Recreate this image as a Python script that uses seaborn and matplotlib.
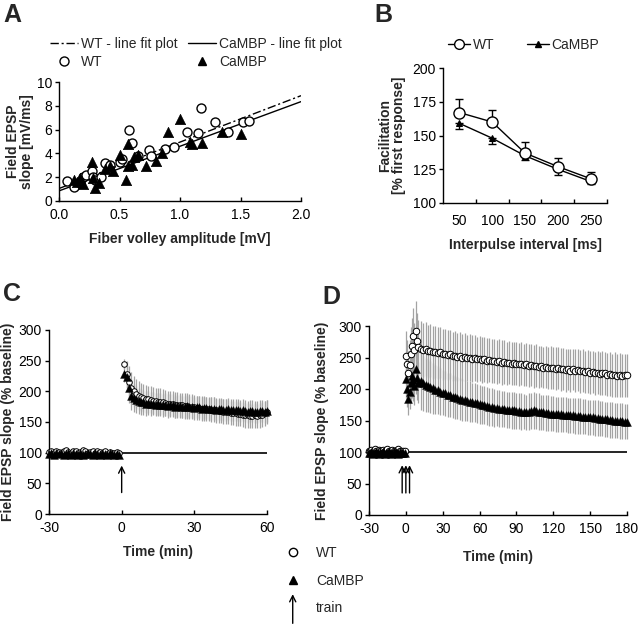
import numpy as np
import matplotlib
matplotlib.use('Agg')
import matplotlib.pyplot as plt
from matplotlib.lines import Line2D
from matplotlib.patches import FancyArrowPatch
from matplotlib.legend_handler import HandlerBase
import seaborn as sns

sns.set_style('ticks')
plt.rcParams['font.family'] = ['Liberation Sans', 'DejaVu Sans']
plt.rcParams['font.size'] = 10
plt.rcParams['axes.linewidth'] = 1.0
plt.rcParams['axes.edgecolor'] = 'black'
plt.rcParams['xtick.color'] = 'black'
plt.rcParams['ytick.color'] = 'black'
plt.rcParams['axes.unicode_minus'] = False

# ---- A: fiber volley vs field EPSP slope
wt_fv = [0.07, 0.12, 0.17, 0.20, 0.22, 0.27, 0.28, 0.30, 0.35, 0.38, 0.42, 0.50, 0.52, 0.58,
         0.60, 0.65, 0.74, 0.76, 0.88, 0.95, 1.06, 1.15, 1.17, 1.29, 1.40, 1.52, 1.57]
wt_slope = [1.7, 1.2, 1.5, 2.0, 2.2, 2.5, 2.0, 1.8, 2.0, 3.2, 3.0, 3.3, 3.5, 6.0,
            4.9, 3.8, 4.3, 3.8, 4.4, 4.5, 5.8, 5.7, 7.8, 6.6, 5.8, 6.6, 6.7]
cb_fv = [0.12, 0.15, 0.17, 0.20, 0.27, 0.28, 0.30, 0.33, 0.38, 0.42, 0.45, 0.50, 0.55, 0.57,
         0.57, 0.60, 0.62, 0.65, 0.72, 0.80, 0.85, 0.90, 1.00, 1.08, 1.10, 1.18, 1.35, 1.50]
cb_slope = [1.8, 1.6, 1.9, 1.4, 3.3, 1.9, 1.1, 1.5, 2.7, 2.9, 2.5, 3.9, 1.8, 4.8,
            2.9, 3.0, 3.7, 3.9, 2.9, 3.4, 4.0, 5.8, 6.9, 5.0, 4.8, 4.9, 5.8, 5.6]
fit_x = [0.0, 2.0]
wt_fit_y = [1.05, 8.85]
cb_fit_y = [0.85, 8.35]

# ---- B: paired pulse facilitation
ipi_labels = ['50', '100', '150', '200', '250']
wt_ppf = [167, 160, 137, 127, 118]
wt_ppf_sem = [10, 9, 8, 6, 5]
cb_ppf = [159, 148, 135, 125, 116]
cb_ppf_sem = [4, 4, 3, 4, 2]

# ---- C: LTP after one train (-30..-1 baseline, 1..60 post)
c_wt_pre = [101, 102, 100, 103, 101, 99, 102, 104, 101, 100,
            103, 102, 99, 101, 104, 102, 100, 101, 103, 99,
            102, 101, 100, 102, 98, 101, 100, 99, 101, 100]
c_cb_pre = [98, 99, 97, 100, 98, 99, 97, 98, 100, 97,
            99, 98, 96, 99, 97, 98, 100, 98, 97, 99,
            98, 97, 99, 98, 97, 99, 98, 97, 98, 97]
c_wt_pre_sem = [3, 2, 3, 3, 2, 3, 4, 3, 2, 3, 3, 2, 3, 3, 4, 3, 2, 3, 3, 2,
                3, 3, 2, 3, 3, 2, 3, 3, 2, 3]
c_cb_pre_sem = [2, 3, 2, 3, 2, 2, 3, 2, 3, 2, 2, 3, 2, 2, 3, 2, 3, 2, 2, 3,
                2, 2, 3, 2, 2, 3, 2, 2, 3, 2]
c_wt_post = [244, 228, 215, 206, 200, 196, 193, 191, 189, 188,
             187, 186, 185, 184, 183, 183, 182, 181, 180, 180,
             179, 178, 178, 177, 177, 176, 176, 175, 175, 174,
             173, 173, 172, 172, 171, 171, 170, 170, 169, 168,
             168, 167, 167, 166, 165, 165, 164, 163, 163, 162,
             161, 161, 160, 160, 161, 160, 161, 162, 164, 166]
c_cb_post = [228, 223, 205, 193, 189, 186, 184, 183, 182, 180,
             181, 179, 180, 178, 179, 178, 177, 178, 176, 177,
             177, 175, 176, 176, 174, 175, 176, 174, 175, 173,
             174, 174, 172, 173, 173, 171, 172, 172, 170, 171,
             171, 170, 170, 171, 169, 170, 169, 169, 168, 169,
             168, 167, 168, 168, 167, 167, 168, 168, 167, 168]
c_wt_post_sem = [8, 22, 26, 26, 25, 24, 24, 23, 23, 23,
                 22, 22, 22, 22, 22, 22, 21, 21, 21, 21,
                 21, 21, 21, 21, 21, 21, 21, 20, 20, 20,
                 20, 20, 20, 20, 20, 20, 20, 20, 20, 20,
                 20, 20, 20, 20, 20, 20, 20, 20, 20, 20,
                 20, 20, 20, 20, 20, 20, 20, 20, 20, 20]
c_cb_post_sem = [12, 18, 24, 24, 23, 22, 21, 21, 20, 20,
                 20, 20, 19, 19, 19, 19, 19, 19, 19, 19,
                 18, 18, 18, 18, 18, 18, 18, 18, 18, 18,
                 18, 18, 18, 18, 18, 18, 18, 18, 18, 18,
                 18, 18, 18, 18, 18, 18, 18, 18, 18, 18,
                 18, 18, 18, 18, 18, 18, 18, 18, 18, 18]
c_train = [0]

# ---- D: LTP after three trains (-30..-1 baseline, 0..10 burst, 12..180 every 2 min)
d_wt_pre = [102, 101, 103, 100, 102, 104, 101, 100, 103, 102,
            101, 103, 100, 102, 101, 104, 102, 100, 101, 103,
            102, 100, 101, 103, 104, 102, 101, 100, 102, 101]
d_cb_pre = [99, 98, 100, 97, 99, 98, 100, 98, 97, 99,
            98, 100, 99, 97, 98, 99, 100, 98, 97, 99,
            98, 99, 100, 98, 97, 99, 98, 99, 98, 99]
d_wt_pre_sem = [4, 3, 4, 3, 4, 5, 3, 4, 4, 3, 4, 4, 3, 4, 3, 5, 4, 3, 4, 4,
                3, 4, 3, 4, 5, 4, 3, 4, 4, 3]
d_cb_pre_sem = [3, 3, 4, 3, 3, 3, 4, 3, 3, 3, 4, 3, 3, 3, 4, 3, 3, 3, 4, 3,
                3, 3, 4, 3, 3, 3, 4, 3, 3, 3]
d_wt_burst = [252, 240, 226, 238, 256, 268, 284, 262, 292, 276, 266]
d_cb_burst = [216, 200, 184, 196, 210, 221, 214, 205, 232, 218, 210]
d_wt_burst_sem = [40, 38, 35, 40, 42, 45, 45, 42, 48, 45, 44]
d_cb_burst_sem = [30, 28, 25, 28, 32, 35, 33, 30, 40, 35, 33]
d_wt_tail = [264, 262, 263, 260, 261, 258, 259, 257, 258, 255,
             256, 254, 255, 252, 253, 251, 252, 250, 251, 249,
             250, 248, 249, 247, 248, 246, 247, 245, 246, 244,
             245, 243, 244, 242, 243, 241, 242, 240, 241, 240,
             239, 240, 238, 239, 237, 238, 236, 237, 235, 236,
             234, 235, 233, 234, 233, 232, 233, 231, 232, 230,
             231, 229, 231, 229, 230, 228, 229, 227, 228, 226,
             227, 225, 226, 224, 226, 225, 223, 224, 222, 223,
             221, 222, 221, 222, 222]
d_cb_tail = [212, 209, 207, 205, 203, 201, 199, 198, 196, 194,
             193, 191, 190, 188, 187, 186, 184, 183, 182, 181,
             180, 179, 178, 177, 176, 175, 174, 173, 172, 171,
             170, 170, 169, 168, 168, 167, 167, 166, 166, 165,
             165, 164, 164, 163, 164, 165, 166, 165, 164, 163,
             163, 162, 162, 161, 161, 160, 160, 160, 159, 159,
             158, 158, 158, 157, 157, 157, 156, 156, 155, 155,
             155, 154, 154, 153, 153, 152, 152, 151, 151, 150,
             150, 149, 149, 148, 148]
d_wt_tail_sem = [44, 43, 43, 42, 42, 42, 41, 41, 41, 40,
                 40, 40, 39, 39, 39, 38, 38, 38, 38, 37,
                 37, 37, 37, 36, 36, 36, 36, 36, 35, 35,
                 35, 35, 35, 35, 35, 34, 34, 34, 34, 34,
                 34, 34, 34, 34, 34, 34, 34, 34, 33, 33,
                 33, 34, 33, 34, 33, 34, 33, 34, 33, 34,
                 33, 34, 33, 34, 33, 34, 34, 34, 34, 34,
                 34, 34, 34, 34, 35, 34, 34, 35, 34, 35,
                 34, 35, 34, 34, 34]
d_cb_tail_sem = [45, 44, 43, 42, 41, 40, 39, 38, 37, 36,
                 36, 35, 35, 34, 34, 33, 33, 33, 32, 32,
                 32, 31, 31, 31, 31, 30, 30, 30, 30, 30,
                 30, 29, 29, 29, 29, 29, 29, 29, 29, 29,
                 29, 29, 28, 28, 29, 29, 30, 29, 29, 28,
                 28, 28, 28, 28, 28, 28, 28, 28, 28, 28,
                 28, 28, 28, 28, 28, 28, 28, 28, 28, 28,
                 28, 28, 28, 28, 28, 28, 28, 28, 28, 28,
                 28, 28, 28, 28, 28]
d_train = [-3, 0, 3]

W, H = 640, 624
fig = plt.figure(figsize=(W / 100, H / 100), dpi=100)


def box(l, t, r, b):
    return [l / W, 1 - b / H, (r - l) / W, (b - t) / H]


def style(ax):
    sns.despine(ax=ax)
    ax.tick_params(axis='x', direction='in', length=3, width=1, pad=5, labelsize=10)
    ax.tick_params(axis='y', direction='out', length=3, width=1, pad=2, labelsize=10)


bold = dict(fontweight='bold', fontsize=10)

# ---------------- A
axA = fig.add_axes(box(59, 82, 301, 201))
sns.lineplot(x=fit_x, y=wt_fit_y, color='black', lw=1, ax=axA)
axA.lines[-1].set_linestyle((0, (6, 2, 1.5, 2)))
sns.lineplot(x=fit_x, y=cb_fit_y, color='black', lw=1, ax=axA)
sns.scatterplot(x=wt_fv, y=wt_slope, marker='o', s=42, color='white', edgecolor='black',
                linewidth=1, ax=axA, zorder=3)
sns.scatterplot(x=cb_fv, y=cb_slope, marker='^', s=55, color='black', edgecolor='black',
                linewidth=0.5, ax=axA, zorder=4)
axA.set_xlim(0, 2)
axA.set_ylim(0, 10)
axA.set_xticks([0, 0.5, 1.0, 1.5, 2.0])
axA.set_xticklabels(['0.0', '0.5', '1.0', '1.5', '2.0'])
axA.set_yticks([0, 2, 4, 6, 8, 10])
style(axA)
axA.set_xlabel('Fiber volley amplitude [mV]', labelpad=7, **bold)
axA.set_ylabel('Field EPSP\nslope [mV/ms]', labelpad=2, linespacing=1.0, **bold)
hA = [Line2D([], [], color='black', lw=1, ls=(0, (6, 2, 1.5, 2))),
      Line2D([], [], ls='none', marker='o', mfc='white', mec='black', ms=6.5),
      Line2D([], [], color='black', lw=1),
      Line2D([], [], ls='none', marker='^', color='black', ms=6)]
fig.legend(hA, ['WT - line fit plot', 'WT', 'CaMBP - line fit plot', 'CaMBP'], ncol=2,
           loc='upper left', bbox_to_anchor=(50 / W, 1 - 37 / H), frameon=False,
           handlelength=2.0, handletextpad=0.2, columnspacing=0.8, labelspacing=0.3,
           borderpad=0, borderaxespad=0, fontsize=10)

# ---------------- B
axB = fig.add_axes(box(443, 68, 607, 203))
pos = np.arange(len(ipi_labels))
axB.errorbar(pos, wt_ppf, yerr=[np.zeros(len(pos)), wt_ppf_sem], fmt='none', ecolor='black',
             elinewidth=1, capsize=3, capthick=1)
axB.errorbar(pos, cb_ppf, yerr=[cb_ppf_sem, np.zeros(len(pos))], fmt='none', ecolor='black',
             elinewidth=1, capsize=3, capthick=1)
sns.lineplot(x=pos, y=cb_ppf, color='black', lw=1, marker='^', markersize=5,
             markeredgecolor='black', ax=axB)
sns.lineplot(x=pos, y=wt_ppf, color='black', lw=1, marker='o', markersize=8,
             markerfacecolor='white', markeredgecolor='black', markeredgewidth=1, ax=axB)
axB.set_xlim(-0.5, 4.5)
axB.set_ylim(100, 200)
axB.set_yticks([100, 125, 150, 175, 200])
axB.set_xticks(pos)
axB.set_xticklabels(ipi_labels)
axB.set_xticks(list(pos + 0.5), minor=True)
style(axB)
axB.tick_params(axis='x', which='major', length=0, pad=8)
axB.tick_params(axis='x', which='minor', direction='in', length=3, width=1)
axB.set_xlabel('Interpulse interval [ms]', labelpad=7, **bold)
axB.set_ylabel('Facilitation\n[% first response]', labelpad=5, linespacing=1.0, **bold)
hB = [Line2D([], [], color='black', lw=1, marker='o', mfc='white', mec='black', ms=7),
      Line2D([], [], color='black', lw=1, marker='^', ms=5)]
fig.legend(hB, ['WT', 'CaMBP'], ncol=2, loc='upper left',
           bbox_to_anchor=(448 / W, 1 - 38 / H), frameon=False, handlelength=1.6,
           handletextpad=0.2, columnspacing=2.3, borderpad=0, borderaxespad=0, fontsize=10)


# ---------------- C and D
def ltp_panel(ax, t, wt, wt_sem, cb, cb_sem, trains, xmax, step, xlabelpad, ylabelpad, ms):
    grey = '#a3a3a3'
    ax.errorbar(t, wt, yerr=wt_sem, fmt='none', ecolor=grey, elinewidth=0.9, clip_on=False)
    ax.errorbar(t, cb, yerr=cb_sem, fmt='none', ecolor=grey, elinewidth=0.9, clip_on=False)
    ax.axhline(100, color='black', lw=1.2, zorder=2)
    sns.scatterplot(x=t, y=wt, marker='o', s=ms, color='white', edgecolor='black',
                    linewidth=0.7, ax=ax, zorder=3, clip_on=False)
    sns.scatterplot(x=t, y=cb, marker='^', s=32, color='black', edgecolor='black',
                    linewidth=0.3, ax=ax, zorder=4, clip_on=False)
    for tr in trains:
        ax.annotate('', xy=(tr, 79), xytext=(tr, 35),
                    arrowprops=dict(arrowstyle='->', lw=1, color='black', mutation_scale=11,
                                    shrinkA=0, shrinkB=0))
    ax.set_xlim(-30, xmax)
    ax.set_ylim(0, 300)
    ax.set_xticks(np.arange(-30, xmax + 1, step))
    ax.set_yticks([0, 50, 100, 150, 200, 250, 300])
    style(ax)
    ax.set_xlabel('Time (min)', labelpad=xlabelpad, **bold)
    ax.set_ylabel('Field EPSP slope (% baseline)', labelpad=ylabelpad, **bold)


tC = np.concatenate([np.arange(-30, 0), np.arange(1, 61)])
axC = fig.add_axes(box(49, 330, 267, 514))
ltp_panel(axC, tC, c_wt_pre + c_wt_post, c_wt_pre_sem + c_wt_post_sem,
          c_cb_pre + c_cb_post, c_cb_pre_sem + c_cb_post_sem, c_train, 60, 30, 7, 3, 16)

tD = np.concatenate([np.arange(-30, 0), np.arange(0, 11), np.arange(12, 181, 2)])
axD = fig.add_axes(box(369, 326, 627, 515))
ltp_panel(axD, tD, d_wt_pre + d_wt_burst + d_wt_tail,
          d_wt_pre_sem + d_wt_burst_sem + d_wt_tail_sem,
          d_cb_pre + d_cb_burst + d_cb_tail,
          d_cb_pre_sem + d_cb_burst_sem + d_cb_tail_sem, d_train, 180, 30, 10, 7, 22)


class ArrowHandler(HandlerBase):
    def create_artists(self, legend, orig_handle, xdescent, ydescent, width, height,
                       fontsize, trans):
        x = -xdescent + width / 2
        y0 = -ydescent
        arrow = FancyArrowPatch((x, y0 - 8), (x, y0 + height + 6), arrowstyle='->',
                                mutation_scale=11, lw=1, color='black', transform=trans,
                                shrinkA=0, shrinkB=0)
        return [arrow]


train_handle = Line2D([], [], color='black')
hC = [Line2D([], [], ls='none', marker='o', mfc='white', mec='black', ms=6),
      Line2D([], [], ls='none', marker='^', color='black', ms=6),
      train_handle]
fig.legend(hC, ['WT', 'CaMBP', 'train'], loc='upper left',
           bbox_to_anchor=(283 / W, 1 - 546 / H), frameon=False, handlelength=1.4,
           handletextpad=1.0, labelspacing=0.98, borderpad=0, borderaxespad=0, fontsize=10,
           handler_map={train_handle: ArrowHandler()})

# panel letters
for letter, x, y in [('A', 3, 3), ('B', 374, 3), ('C', 3, 282), ('D', 322, 285)]:
    fig.text(x / W, 1 - y / H, letter, fontsize=18, fontweight='bold', va='top', ha='left')

fig.savefig('out.png', dpi=100)
